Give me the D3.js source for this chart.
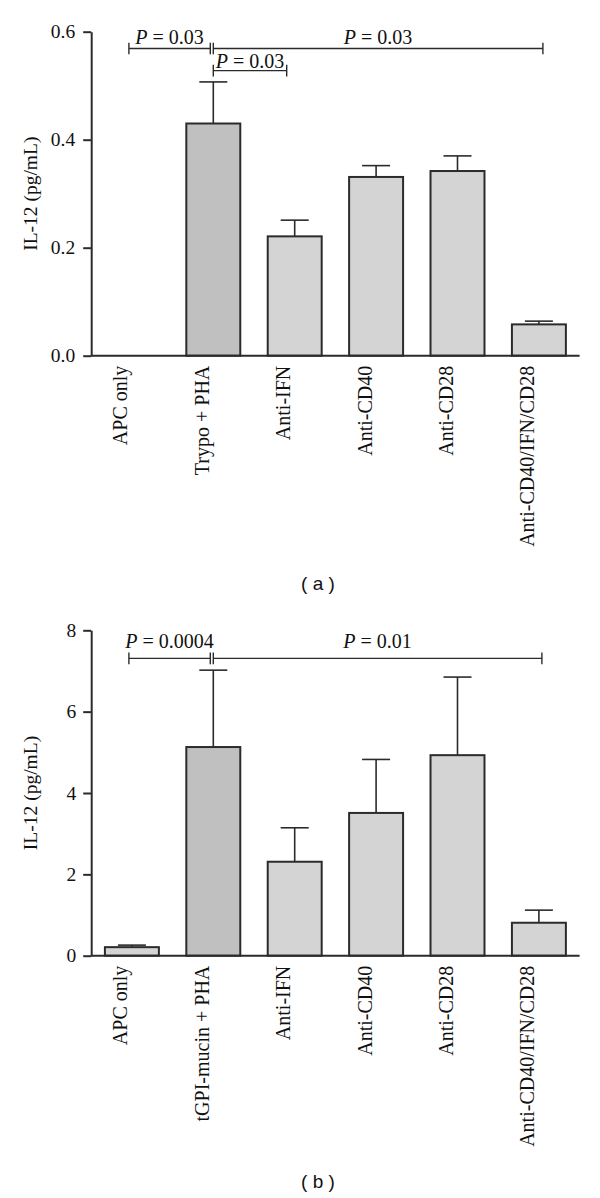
<!DOCTYPE html>
<html>
<head>
<meta charset="utf-8">
<script src="https://cdn.jsdelivr.net/npm/d3@7/dist/d3.min.js"></script>
<style>
  html, body { margin: 0; padding: 0; background: #fff; }
  svg { display: block; }
</style>
</head>
<body>
<svg id="chart" width="600" height="1198"></svg>
<script>
// ---------- Data ----------
const categoriesA = ["APC only", "Trypo + PHA", "Anti-IFN", "Anti-CD40", "Anti-CD28", "Anti-CD40/IFN/CD28"];
const meansA = [0, 0.430, 0.221, 0.331, 0.342, 0.058];
const errorsA = [0, 0.077, 0.030, 0.021, 0.028, 0.006];
const ticksA = [0, 0.2, 0.4, 0.6];
const bracketsA = [
  { from: 0, to: 1, y: 0.569, p: "0.03" },
  { from: 1, to: 2, y: 0.528, p: "0.03" },
  { from: 1, to: 5, y: 0.569, p: "0.03" }
];

const categoriesB = ["APC only", "tGPI-mucin + PHA", "Anti-IFN", "Anti-CD40", "Anti-CD28", "Anti-CD40/IFN/CD28"];
const meansB = [0.21, 5.13, 2.31, 3.51, 4.93, 0.81];
const errorsB = [0.05, 1.89, 0.835, 1.315, 1.92, 0.31];
const ticksB = [0, 2, 4, 6, 8];
const bracketsB = [
  { from: 0, to: 1, y: 7.31, p: "0.0004" },
  { from: 1, to: 5, y: 7.31, p: "0.01" }
];

const yTitle = "IL-12 (pg/mL)";
const panelLabels = ["( a )", "( b )"];
const highlightIndex = 1; // darker stimulated bar

// ---------- Layout / style ----------
const serif = "'Liberation Serif', 'DejaVu Serif', serif";
const sans = "'Liberation Sans', Arial, sans-serif";
const dark = "#2b2b2b";
const fillNormal = "#d4d4d4";
const fillHigh = "#c0c0c0";

const svg = d3.select("#chart");

function drawPanel(cfg) {
  const g = svg.append("g");
  const x = d3.scaleBand()
    .domain(cfg.categories)
    .range([91.2, 579.6])
    .paddingInner(0.337)
    .paddingOuter(0.1685);
  const y = d3.scaleLinear().domain(cfg.domain).range([cfg.y0, cfg.yTop]);
  const cx = i => x(cfg.categories[i]) + x.bandwidth() / 2;

  const data = cfg.categories.map((c, i) => ({ c, i, m: cfg.means[i], e: cfg.errors[i] }));
  const barsData = data.filter(d => d.m > 0);

  // Error bars (upper only)
  const capW = 14;
  g.selectAll("line.err").data(barsData).enter().append("line")
    .attr("x1", d => cx(d.i)).attr("x2", d => cx(d.i))
    .attr("y1", d => y(d.m)).attr("y2", d => y(d.m + d.e))
    .attr("stroke", dark).attr("stroke-width", 1.6);
  g.selectAll("line.cap").data(barsData).enter().append("line")
    .attr("x1", d => cx(d.i) - capW).attr("x2", d => cx(d.i) + capW)
    .attr("y1", d => y(d.m + d.e)).attr("y2", d => y(d.m + d.e))
    .attr("stroke", dark).attr("stroke-width", 1.6);

  g.selectAll("rect.bar").data(barsData).enter().append("rect")
    .attr("x", d => x(d.c))
    .attr("width", x.bandwidth())
    .attr("y", d => y(d.m))
    .attr("height", d => y(0) - y(d.m))
    .attr("fill", d => d.i === highlightIndex ? fillHigh : fillNormal)
    .attr("stroke", dark).attr("stroke-width", 2);

  // Y axis
  const axis = d3.axisLeft(y).tickValues(cfg.ticks).tickFormat(cfg.fmt)
    .tickSize(8).tickSizeOuter(0).tickPadding(cfg.tickPad);
  const ag = g.append("g").attr("transform", "translate(91.2,0)").call(axis);
  ag.select(".domain").attr("stroke", dark).attr("stroke-width", 2);
  ag.selectAll(".tick line").attr("stroke", dark).attr("stroke-width", 2);
  ag.selectAll(".tick text").attr("font-family", serif).attr("font-size", 19.5).attr("fill", "#111");

  // X axis baseline
  g.append("line")
    .attr("x1", x.range()[0]).attr("x2", x.range()[1])
    .attr("y1", y(0)).attr("y2", y(0))
    .attr("stroke", dark).attr("stroke-width", 2);

  // X labels (rotated)
  g.selectAll("text.xl").data(data).enter().append("text")
    .attr("transform", d => `translate(${cx(d.i) - 4.5},${y(0) + 10}) rotate(-90)`)
    .attr("text-anchor", "end")
    .attr("font-family", serif).attr("font-size", 20).attr("fill", "#111")
    .text(d => d.c);

  // Y title
  g.append("text")
    .attr("transform", `translate(37,${(cfg.y0 + cfg.yTop) / 2}) rotate(-90)`)
    .attr("text-anchor", "middle")
    .attr("font-family", serif).attr("font-size", 19.5).attr("fill", "#111")
    .text(yTitle);

  // Significance brackets
  cfg.brackets.forEach((b, k) => {
    const gap = cfg.brackets.some(o => o !== b && o.from === b.to && o.y === b.y) ? 3 : 0;
    const x1 = cx(b.from) - (b.from === 0 ? 3 : 0);
    const x2 = cx(b.to) - gap + (cfg.endShift[k] || 0);
    const yy = y(b.y);
    const bg = g.append("g").attr("stroke", dark).attr("stroke-width", 1.4);
    bg.append("line").attr("x1", x1).attr("x2", x2).attr("y1", yy).attr("y2", yy);
    bg.append("line").attr("x1", x1).attr("x2", x1).attr("y1", yy - 5.8).attr("y2", yy + 5.8);
    bg.append("line").attr("x1", x2).attr("x2", x2).attr("y1", yy - 5.8).attr("y2", yy + 5.8);
    const t = g.append("text")
      .attr("x", (x1 + x2) / 2).attr("y", yy - cfg.labelOffsets[k])
      .attr("text-anchor", "middle")
      .attr("font-family", serif).attr("font-size", 20).attr("fill", "#111");
    t.append("tspan").attr("font-style", "italic").text("P");
    t.append("tspan").text(" = " + b.p);
  });

  // Panel label
  g.append("text")
    .attr("x", 318).attr("y", cfg.labelY)
    .attr("text-anchor", "middle").attr("dominant-baseline", "central")
    .attr("font-family", sans).attr("font-size", 19).attr("fill", "#111")
    .text(cfg.panelLabel);
}

drawPanel({
  categories: categoriesA, means: meansA, errors: errorsA, ticks: ticksA,
  domain: [0, 0.6], y0: 355.7, yTop: 31.7, fmt: d3.format(".1f"), tickPad: 8,
  brackets: bracketsA, labelOffsets: [4.5, 2.5, 4.5], endShift: [0, -8, 4],
  panelLabel: panelLabels[0], labelY: 583
});

drawPanel({
  categories: categoriesB, means: meansB, errors: errorsB, ticks: ticksB,
  domain: [0, 8], y0: 955.7, yTop: 630.3, fmt: d3.format("d"), tickPad: 7,
  brackets: bracketsB, labelOffsets: [10.5, 10.5], endShift: [0, 3],
  panelLabel: panelLabels[1], labelY: 1181
});
</script>
</body>
</html>
